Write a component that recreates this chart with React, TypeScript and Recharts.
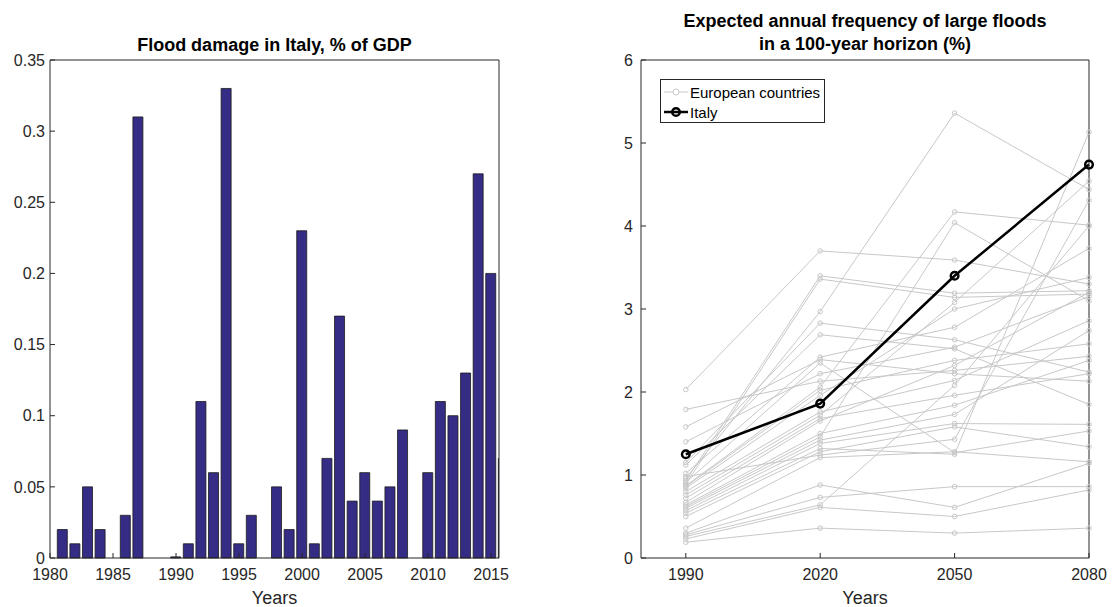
import React from 'react';
import { BarChart, Bar, LineChart, Line, XAxis, YAxis } from 'recharts';

// Flood damage in Italy, % of GDP (one bar per year)
const damageYears = [
  1981, 1982, 1983, 1984, 1985, 1986, 1987, 1988, 1989, 1990, 1991, 1992,
  1993, 1994, 1995, 1996, 1997, 1998, 1999, 2000, 2001, 2002, 2003, 2004,
  2005, 2006, 2007, 2008, 2009, 2010, 2011, 2012, 2013, 2014, 2015, 2016,
];
const damageShare = [
  0.02, 0.01, 0.05, 0.02, 0, 0.03, 0.31, 0, 0, 0.0008, 0.01, 0.11,
  0.06, 0.33, 0.01, 0.03, 0, 0.05, 0.02, 0.23, 0.01, 0.07, 0.17, 0.04,
  0.06, 0.04, 0.05, 0.09, 0, 0.06, 0.11, 0.1, 0.13, 0.27, 0.2, 0.07,
];
const yearTicks = [1980, 1985, 1990, 1995, 2000, 2005, 2010, 2015];
const shareTicks = [0, 0.05, 0.1, 0.15, 0.2, 0.25, 0.3, 0.35];

// Expected annual frequency of large floods (%)
const horizonYears = [1990, 2020, 2050, 2080];
const italyFrequency = [1.25, 1.86, 3.4, 4.74];
const europeFrequency = [
  [2.03, 3.7, 3.59, 3.3],
  [1.79, 2.13, 2.26, 2.43],
  [1.58, 2.39, 2.22, 2.13],
  [1.4, 2.22, 2.54, 3.15],
  [0.93, 3.4, 3.19, 3.22],
  [0.89, 3.36, 3.14, 3.18],
  [0.96, 2.97, 5.36, 4.44],
  [1.15, 2.83, 2.63, 2.24],
  [1.12, 2.69, 2.52, 1.85],
  [1.02, 2.42, 2.78, 3.73],
  [0.91, 2.35, 1.27, 1.53],
  [0.87, 2.06, 4.17, 4.01],
  [0.86, 2.02, 2.38, 2.58],
  [0.84, 1.96, 3.0, 3.38],
  [0.8, 1.76, 2.14, 2.86],
  [0.76, 1.72, 3.08, 4.54],
  [0.72, 1.68, 1.96, 2.22],
  [0.67, 1.65, 2.32, 3.2],
  [0.64, 1.5, 1.84, 2.38],
  [0.62, 1.46, 4.04, 3.1],
  [0.6, 1.42, 1.73, 2.74],
  [0.57, 1.38, 1.62, 1.61],
  [0.54, 1.32, 1.25, 5.13],
  [0.5, 1.28, 1.58, 1.34],
  [0.98, 1.24, 1.43, 4.31],
  [0.36, 1.21, 1.28, 1.16],
  [0.3, 0.88, 0.61, 1.14],
  [0.28, 0.73, 0.86, 0.86],
  [0.26, 0.64, 2.08, 4.0],
  [0.23, 0.61, 0.5, 0.82],
  [0.19, 0.36, 0.3, 0.36],
];
const frequencyTicks = [0, 1, 2, 3, 4, 5, 6];

const damageData = damageYears.map((year, i) => ({ year, share: damageShare[i] }));
const frequencyData = horizonYears.map((year, i) => {
  const row: Record<string, number> = { year, italy: italyFrequency[i] };
  europeFrequency.forEach((country, c) => {
    row[`c${c}`] = country[i];
  });
  return row;
});

const FONT = '"Liberation Sans", Arial, Helvetica, sans-serif';
const AXIS = '#262626';
const GREY = '#c8c8c8';
const tickStyle = { fontSize: 16, fill: AXIS, fontFamily: FONT };

const fmtShare = (v: number) => String(Number(v.toFixed(2)));

const titleStyle: React.CSSProperties = {
  position: 'absolute',
  textAlign: 'center',
  fontWeight: 'bold',
  fontSize: 18,
  lineHeight: '23px',
  color: '#000',
  fontFamily: FONT,
};
const labelStyle: React.CSSProperties = {
  position: 'absolute',
  textAlign: 'center',
  fontSize: 18,
  lineHeight: '20px',
  color: AXIS,
  fontFamily: FONT,
};

const LegendBox = () => (
  <div
    style={{
      position: 'absolute',
      left: 660,
      top: 79,
      width: 163,
      height: 42,
      border: `1px solid ${AXIS}`,
      background: '#fff',
      fontFamily: FONT,
      fontSize: 15,
      color: '#000',
    }}
  >
    <div style={{ display: 'flex', alignItems: 'center', height: 20, marginTop: 2 }}>
      <svg width={29} height={20}>
        <line x1={3} x2={27} y1={10} y2={10} stroke={GREY} strokeWidth={1} />
        <circle cx={15} cy={10} r={3} fill="#fff" stroke={GREY} strokeWidth={1} />
      </svg>
      <span>European countries</span>
    </div>
    <div style={{ display: 'flex', alignItems: 'center', height: 20 }}>
      <svg width={29} height={20}>
        <line x1={3} x2={27} y1={10} y2={10} stroke="#000" strokeWidth={2.5} />
        <circle cx={15} cy={10} r={3.8} fill="none" stroke="#000" strokeWidth={2.5} />
      </svg>
      <span>Italy</span>
    </div>
  </div>
);

export default function App() {
  return (
    <div
      style={{
        position: 'absolute',
        left: 0,
        top: 0,
        width: 1114,
        height: 607,
        background: '#fff',
        fontFamily: FONT,
      }}
    >
      <div style={{ position: 'absolute', left: 0, top: 0 }}>
        <BarChart
          width={520}
          height={607}
          data={damageData}
          margin={{ top: 59, right: 20, bottom: 19, left: 10 }}
        >
          <XAxis
            xAxisId="bottom"
            dataKey="year"
            type="number"
            domain={[1980, 2015.63]}
            allowDataOverflow
            ticks={yearTicks}
            interval={0}
            height={30}
            tickSize={-5}
            tickMargin={16}
            tick={tickStyle}
            stroke={AXIS}
          />
          <XAxis
            xAxisId="top"
            dataKey="year"
            type="number"
            orientation="top"
            domain={[1980, 2015.63]}
            allowDataOverflow
            ticks={yearTicks}
            interval={0}
            height={1}
            tickSize={-5}
            tick={false}
            stroke={AXIS}
          />
          <YAxis
            yAxisId="left"
            domain={[0, 0.35]}
            ticks={shareTicks}
            interval={0}
            width={40}
            tickSize={-5}
            tickMargin={10}
            tick={tickStyle}
            tickFormatter={fmtShare}
            stroke={AXIS}
          />
          <YAxis
            yAxisId="right"
            orientation="right"
            domain={[0, 0.35]}
            ticks={shareTicks}
            interval={0}
            width={1}
            tickSize={-5}
            tick={false}
            stroke={AXIS}
          />
          <Bar
            xAxisId="bottom"
            yAxisId="left"
            dataKey="share"
            barSize={10}
            fill="#352c85"
            stroke="#1a1a1a"
            strokeWidth={0.8}
            isAnimationActive={false}
          />
        </BarChart>
      </div>
      <div style={{ ...titleStyle, left: 50, width: 449, top: 34 }}>
        Flood damage in Italy, % of GDP
      </div>
      <div style={{ ...labelStyle, left: 50, width: 449, top: 588 }}>Years</div>

      <div style={{ position: 'absolute', left: 560, top: 0 }}>
        <LineChart
          width={554}
          height={607}
          data={frequencyData}
          margin={{ top: 59, right: 24, bottom: 19, left: 41 }}
        >
          <XAxis
            xAxisId="bottom"
            dataKey="year"
            type="number"
            domain={[1980, 2080]}
            ticks={horizonYears}
            interval={0}
            height={30}
            tickSize={-5}
            tickMargin={16}
            tick={tickStyle}
            stroke={AXIS}
          />
          <XAxis
            xAxisId="top"
            dataKey="year"
            type="number"
            orientation="top"
            domain={[1980, 2080]}
            ticks={horizonYears}
            interval={0}
            height={1}
            tickSize={-5}
            tick={false}
            stroke={AXIS}
          />
          <YAxis
            yAxisId="left"
            domain={[0, 6]}
            ticks={frequencyTicks}
            interval={0}
            width={40}
            tickSize={-5}
            tickMargin={13}
            tick={tickStyle}
            stroke={AXIS}
          />
          <YAxis
            yAxisId="right"
            orientation="right"
            domain={[0, 6]}
            ticks={frequencyTicks}
            interval={0}
            width={1}
            tickSize={-5}
            tick={false}
            stroke={AXIS}
          />
          {europeFrequency.map((_, c) => (
            <Line
              key={c}
              xAxisId="bottom"
              yAxisId="left"
              dataKey={`c${c}`}
              stroke={GREY}
              strokeWidth={1}
              dot={{ r: 2.3, fill: 'none', stroke: GREY, strokeWidth: 1 }}
              isAnimationActive={false}
            />
          ))}
          <Line
            xAxisId="bottom"
            yAxisId="left"
            dataKey="italy"
            stroke="#000"
            strokeWidth={2.5}
            dot={{ r: 3.8, fill: 'none', stroke: '#000', strokeWidth: 2.5 }}
            isAnimationActive={false}
          />
        </LineChart>
      </div>
      <div style={{ ...titleStyle, left: 641, width: 448, top: 10 }}>
        Expected annual frequency of large floods
        <br />
        in a 100-year horizon (%)
      </div>
      <div style={{ ...labelStyle, left: 641, width: 448, top: 588 }}>Years</div>
      <LegendBox />
    </div>
  );
}
